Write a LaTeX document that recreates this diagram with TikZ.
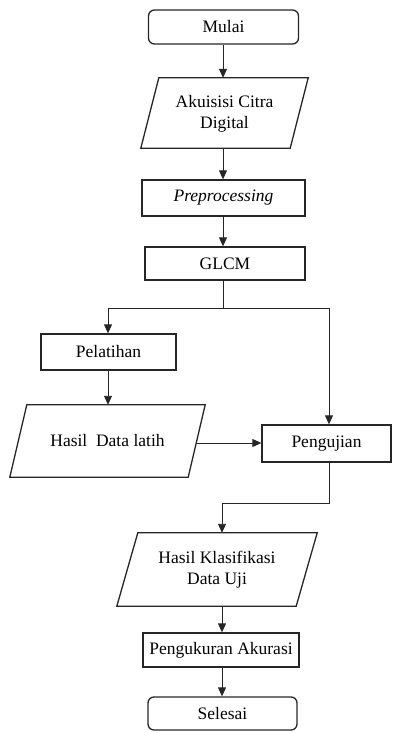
\documentclass[tikz,border=0pt]{standalone}
\usepackage{fontspec}
\setmainfont{Liberation Serif}
\usetikzlibrary{arrows.meta,calc}
\begin{document}
\begin{tikzpicture}[x=1pt,y=-1pt,
  box/.style={draw=black!85,line width=1.3pt,rectangle,inner sep=0pt,align=center,font=\fontsize{17.5}{21}\selectfont},
  term/.style={box,rounded corners=6pt},
  io/.style={rectangle,inner sep=0pt,align=center,font=\fontsize{17.5}{21}\selectfont},
  para/.style={draw=black!85,line width=1.3pt},
  arr/.style={draw=black!85,line width=0.9pt,-{Triangle[width=8pt,length=9pt]}},
  ln/.style={draw=black!85,line width=0.9pt}]
\useasboundingbox (0,0) rectangle (393,733);
\node[term,minimum width=150pt,minimum height=34pt] (mulai) at (223.5,27) {Mulai};
\node[io,minimum width=167pt,minimum height=70pt] (akuisisi) at (224.5,113) {\rule{0pt}{14pt}Akuisisi Citra\\Digital};
\draw[para] ($(akuisisi.north west)+(18,0)$) -- (akuisisi.north east) -- ($(akuisisi.south east)+(-18,0)$) -- (akuisisi.south west) -- cycle;
\node[box,minimum width=163pt,minimum height=36pt] (prep) at (223.5,198) {\textit{Preprocessing}};
\node[box,minimum width=160pt,minimum height=33pt] (glcm) at (225,263.5) {GLCM};
\node[box,minimum width=135pt,minimum height=36pt] (pelatihan) at (108.5,352) {Pelatihan};
\node[io,minimum width=195pt,minimum height=72pt] (latih) at (107.5,441) {Hasil~~Data latih};
\draw[para] ($(latih.north west)+(17,0)$) -- (latih.north east) -- ($(latih.south east)+(-17,0)$) -- (latih.south west) -- cycle;
\node[box,minimum width=129pt,minimum height=37pt] (uji) at (326.5,443.5) {Pengujian};
\node[io,minimum width=200pt,minimum height=73pt] (klas) at (217,569.5) {Hasil Klasifikasi\\Data Uji};
\draw[para] ($(klas.north west)+(21,0)$) -- (klas.north east) -- ($(klas.south east)+(-21,0)$) -- (klas.south west) -- cycle;
\node[box,minimum width=156pt,minimum height=34pt] (ukur) at (221,650) {Pengukuran Akurasi};
\node[term,minimum width=149pt,minimum height=33pt] (selesai) at (222.5,713.5) {Selesai};
\coordinate (j1) at (223,308);
\coordinate (j1l) at (108,308);
\coordinate (j1r) at (329,308);
\coordinate (latihR) at (196,443);
\coordinate (j2) at (329,503);
\coordinate (j2l) at (222,503);
\draw[arr] (mulai.south -| j1) -- (j1 |- akuisisi.north);
\draw[arr] (akuisisi.south -| j1) -- (j1 |- prep.north);
\draw[arr] (prep.south -| j1) -- (j1 |- glcm.north);
\draw[ln] (glcm.south -| j1) -- (j1);
\draw[arr] (j1) -- (j1l) -- (j1l |- pelatihan.north);
\draw[arr] (j1) -- (j1r) -- (j1r |- uji.north);
\draw[arr] (pelatihan.south -| j1l) -- (j1l |- latih.north);
\draw[arr] (latihR) -- (uji.west |- latihR);
\draw[arr] (uji.south -| j2) -- (j2) -- (j2l) -- (j2l |- klas.north);
\draw[arr] (klas.south -| j2l) -- (j2l |- ukur.north);
\draw[arr] (ukur.south -| j2l) -- (j2l |- selesai.north);
\end{tikzpicture}
\end{document}
